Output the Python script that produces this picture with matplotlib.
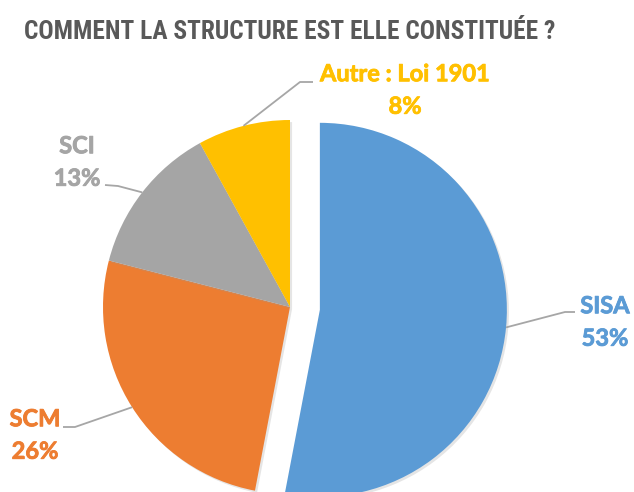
import numpy as np
import matplotlib.pyplot as plt
from matplotlib import patheffects as pe

# Data
labels = ["SISA", "SCM", "SCI", "Autre : Loi 1901"]
values = [53, 26, 13, 8]
colors = ["#5B9BD5", "#ED7D31", "#A5A5A5", "#FFC000"]
title = "COMMENT LA STRUCTURE EST ELLE CONSTITUÉE ?"

W, H = 634, 492
fig = plt.figure(figsize=(W / 100, H / 100), dpi=100)
ax = fig.add_axes([0, 0, 1, 1])

# explode is in data units here (pixels)
wedges, _ = ax.pie(values, colors=colors, startangle=90, counterclock=False,
                   center=(290, H - 307), radius=187,
                   explode=[30, 0, 0, 0],
                   wedgeprops=dict(linewidth=0))
for w in wedges:
    w.set_path_effects([pe.SimplePatchShadow(offset=(1.5, -1.5), alpha=0.25,
                                             shadow_rgbFace="#999999"),
                        pe.Normal()])

ax.set_xlim(0, W)
ax.set_ylim(0, H)
ax.set_aspect("equal")
ax.axis("off")

# label layout: text centre and elbow of leader line (pixel coords from top)
text_pos = [(605, 322), (35, 435), (77, 162), (405, 90)]
elbow = [((575, 312), (565, 312)), ((63, 427), (75, 427)),
         ((105, 185), (118, 186)), ((313, 82), (300, 82))]

for w, lab, v, c, tp, (e0, e1) in zip(wedges, labels, values, colors, text_pos, elbow):
    th = np.deg2rad((w.theta1 + w.theta2) / 2)
    cx, cy = w.center
    ax_pt = (cx + w.r * np.cos(th), cy + w.r * np.sin(th))
    xs = [e0[0], e1[0], ax_pt[0]]
    ys = [H - e0[1], H - e1[1], ax_pt[1]]
    ax.plot(xs, ys, color="#A6A6A6", lw=1.3, solid_capstyle="butt")
    ax.text(tp[0], H - tp[1], f"{lab}\n{v}%", ha="center", va="center",
            color=c, fontsize=17, fontweight="bold", family=["Lato", "DejaVu Sans"],
            linespacing=1.5, path_effects=[pe.withStroke(linewidth=0.6, foreground=c)])

t = fig.text(290 / W, 1 - 32 / H, title, ha="center", va="center",
             color="#595959", fontsize=20, fontweight="bold",
             family=["Noto Sans Condensed", "Roboto Condensed", "Liberation Sans Narrow",
                     "Open Sans Condensed", "DejaVu Sans"])
# fit the title to the reference width
r = fig.canvas.get_renderer()
wpx = t.get_window_extent(r).width
t.set_fontsize(20 * 532 / wpx)

fig.savefig("out.png", dpi=100)
